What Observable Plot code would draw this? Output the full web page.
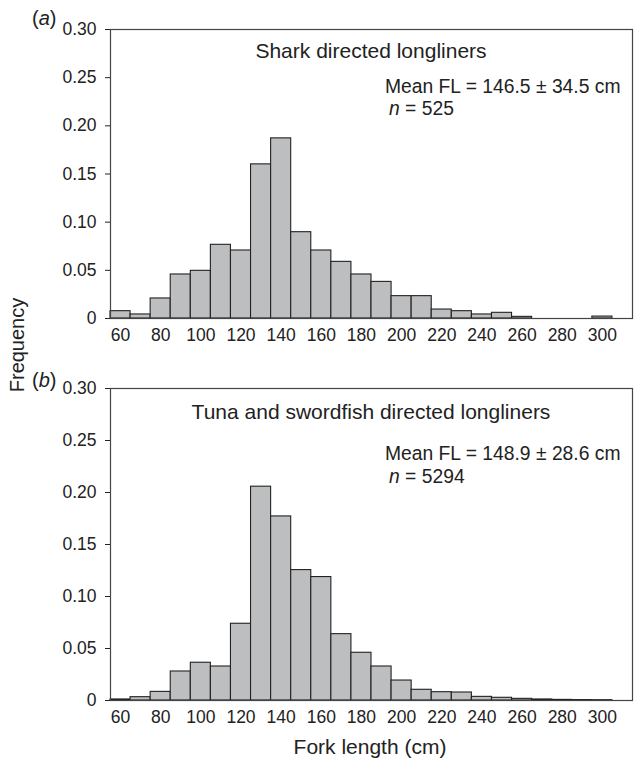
<!DOCTYPE html>
<html>
<head>
<meta charset="utf-8">
<script src="https://cdn.jsdelivr.net/npm/d3@7"></script>
<script src="https://cdn.jsdelivr.net/npm/@observablehq/plot@0.6"></script>
<style>
  body { margin: 0; background: #fff; font-family: "Liberation Sans", Arial, sans-serif; color: #222; }
  #wrap { position: relative; width: 634px; height: 760px; overflow: hidden; }
  .abs { position: absolute; white-space: nowrap; line-height: 1; }
  svg { font-family: "Liberation Sans", Arial, sans-serif; }
</style>
</head>
<body>
<div id="wrap">
  <div id="pa" class="abs" style="left:0;top:0"></div>
  <div id="pb" class="abs" style="left:0;top:360px"></div>
  <div class="abs" style="left:32px;top:8px;font-size:20px;">(<i>a</i>)</div>
  <div class="abs" style="left:32px;top:370px;font-size:20px;">(<i>b</i>)</div>
  <div class="abs" style="left:17px;top:345px;font-size:20px;transform:translate(-50%,-50%) rotate(-90deg);">Frequency</div>
  <div class="abs" style="left:371px;top:40px;font-size:21px;transform:translateX(-50%);">Shark directed longliners</div>
  <div class="abs" style="left:385px;top:77px;font-size:19.3px;">Mean FL = 146.5 ± 34.5 cm</div>
  <div class="abs" style="left:389px;top:99px;font-size:19.3px;"><i>n</i> = 525</div>
  <div class="abs" style="left:371px;top:401px;font-size:21px;transform:translateX(-50%);">Tuna and swordfish directed longliners</div>
  <div class="abs" style="left:385px;top:444px;font-size:19.3px;">Mean FL = 148.9 ± 28.6 cm</div>
  <div class="abs" style="left:389px;top:467px;font-size:19.3px;"><i>n</i> = 5294</div>
  <div class="abs" style="left:370px;top:736px;font-size:21px;transform:translateX(-50%);">Fork length (cm)</div>
</div>
<script>
// Bin centres (cm), bin width 10 cm
const binCentres = [60,70,80,90,100,110,120,130,140,150,160,170,180,190,200,210,220,230,240,250,260,270,280,290,300];
// Panel (a) Shark directed longliners
const sharkFreq = [0.0076,0.0042,0.0208,0.0457,0.0495,0.0765,0.0706,0.160,0.187,0.0896,0.0706,0.0588,0.0457,0.038,0.0232,0.0232,0.0093,0.0076,0.0042,0.0059,0.0017,0,0,0,0.002];
// Panel (b) Tuna and swordfish directed longliners
const tunaFreq = [0.001,0.0032,0.0083,0.0279,0.0363,0.0327,0.0738,0.2056,0.177,0.1254,0.1187,0.0638,0.0459,0.0327,0.0192,0.0103,0.008,0.0077,0.0035,0.0026,0.0016,0.001,0.0006,0.0004,0.0003];
const xTicks = [60,80,100,120,140,160,180,200,220,240,260,280,300];
const yTicks = [0,0.05,0.10,0.15,0.20,0.25,0.30];
const binWidth = 10;

function panel(freq, opts) {
  const data = binCentres.map((c, i) => ({x1: c - binWidth/2, x2: c + binWidth/2, f: freq[i]})).filter(d => d.f > 0);
  return Plot.plot({
    width: 634,
    height: opts.height,
    marginLeft: 110,
    marginRight: 2,
    marginTop: opts.marginTop,
    marginBottom: opts.marginBottom,
    style: {fontSize: "17.5px", color: "#222", background: "transparent"},
    x: {domain: [55, 315], ticks: xTicks, tickSize: 0, tickPadding: 10, label: null},
    y: {domain: [0, 0.30], ticks: yTicks, tickSize: 5, tickPadding: 9, tickFormat: d => d === 0 ? "0" : d.toFixed(2), label: null},
    marks: [
      Plot.rectY(data, {x1: "x1", x2: "x2", y1: 0, y2: "f", fill: "#bcbec0", stroke: "#222", strokeWidth: 1.1}),
      Plot.frame({stroke: "#444", strokeWidth: 1.2})
    ]
  });
}

document.getElementById("pa").appendChild(panel(sharkFreq, {height: 345, marginTop: 29, marginBottom: 27}));
document.getElementById("pb").appendChild(panel(tunaFreq, {height: 370, marginTop: 28, marginBottom: 30}));
</script>
</body>
</html>
